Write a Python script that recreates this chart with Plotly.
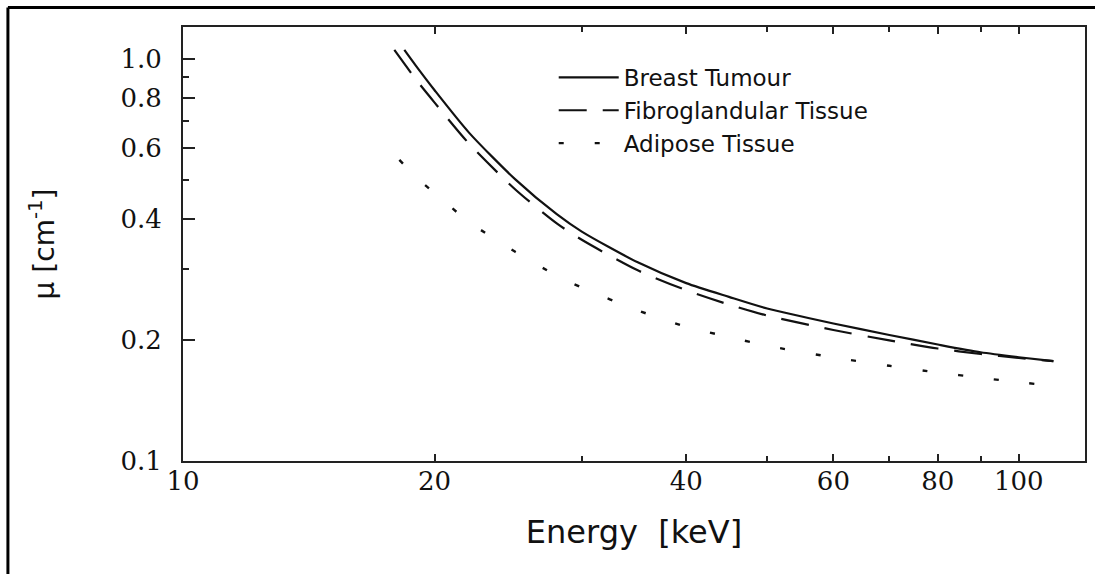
import plotly.graph_objects as go

# ---- data ----
energy_tumour = [18.4, 19, 20, 22, 25, 28, 30, 35, 40, 45, 50, 60, 70, 80, 90, 100, 110]
mu_tumour = [1.053, 0.961, 0.836, 0.655, 0.501, 0.411, 0.372, 0.312, 0.277, 0.256,
             0.2395, 0.2198, 0.2058, 0.1949, 0.1864, 0.1812, 0.1772]

energy_fibro = [17.9, 19, 20, 22, 25, 28, 30, 35, 40, 45, 50, 60, 70, 80, 90, 100, 110]
mu_fibro = [1.053, 0.889, 0.779, 0.615, 0.473, 0.390, 0.355, 0.298, 0.266, 0.245,
            0.230, 0.2118, 0.1995, 0.1905, 0.1846, 0.1804, 0.1771]

energy_adipose = [18.15, 19, 20, 22, 25, 28, 30, 35, 40, 45, 50, 60, 70, 80, 90, 100, 105]
mu_adipose = [0.561, 0.5085, 0.464, 0.393, 0.331, 0.289, 0.270, 0.237, 0.2157, 0.2035,
              0.1935, 0.181, 0.1725, 0.166, 0.1611, 0.157, 0.1554]

x_tick_vals = [10, 20, 40, 60, 80, 100]
x_tick_text = ["10", "20", "40", "60", "80", "100"]
x_minor_vals = [30, 50, 70, 90]
y_tick_vals = [0.1, 0.2, 0.4, 0.6, 0.8, 1.0]
y_tick_text = ["0.1", "0.2", "0.4", "0.6", "0.8", "1.0"]
y_minor_vals = [0.3, 0.5, 0.7, 0.9]

series_names = ["Breast Tumour", "Fibroglandular Tissue", "Adipose Tissue"]

# ---- figure ----
fig = go.Figure()
fig.add_trace(go.Scatter(x=energy_tumour, y=mu_tumour, mode="lines", name=series_names[0],
                         line=dict(color="#111111", width=2.2, shape="spline", smoothing=0.7)))
fig.add_trace(go.Scatter(x=energy_fibro, y=mu_fibro, mode="lines", name=series_names[1],
                         line=dict(color="#111111", width=2.2, dash="28px,16px",
                                   shape="spline", smoothing=0.7)))
fig.add_trace(go.Scatter(x=energy_adipose, y=mu_adipose, mode="lines", name=series_names[2],
                         line=dict(color="#111111", width=2.4, dash="5px,31px",
                                   shape="spline", smoothing=0.7)))

axis_line = dict(showline=True, linecolor="#222222", linewidth=2, showgrid=False, zeroline=False)
serif = dict(family="DejaVu Serif", size=26, color="#111111")
sans = "DejaVu Sans"

fig.update_xaxes(type="log", range=[1, 2.0792], mirror="ticks",
                 tickmode="array", tickvals=x_tick_vals, ticktext=x_tick_text,
                 ticks="inside", ticklen=7, tickwidth=2, tickcolor="#222222",
                 tickfont=serif, ticklabelstandoff=-4,
                 minor=dict(tickmode="array", tickvals=x_minor_vals, ticks="inside",
                            ticklen=5, tickwidth=2, tickcolor="#222222"),
                 title=dict(text="Energy\u00a0\u00a0[keV]",
                            font=dict(family=sans, size=32, color="#111111"), standoff=25),
                 **axis_line)
fig.update_yaxes(type="log", range=[-1, 0.0796], mirror=True,
                 tickmode="array", tickvals=y_tick_vals, ticktext=y_tick_text,
                 ticks="inside", ticklen=12, tickwidth=2, tickcolor="#222222",
                 tickfont=serif, ticklabelstandoff=14,
                 minor=dict(tickmode="array", tickvals=y_minor_vals, ticks="inside",
                            ticklen=6, tickwidth=2, tickcolor="#222222"),
                 title=dict(text="\u03bc [cm<sup>-1</sup>]",
                            font=dict(family=sans, size=28, color="#111111"), standoff=58),
                 **axis_line)

# outer frame lines (left and top) of the original figure
fig.add_shape(type="line", xref="paper", yref="paper", x0=-0.1941, x1=-0.1941, y0=1.0449, y1=-0.3,
              line=dict(color="black", width=3))
fig.add_shape(type="line", xref="paper", yref="paper", x0=-0.1941, x1=1.05, y0=1.0449, y1=1.0449,
              line=dict(color="black", width=3))

fig.update_layout(
    width=1095, height=574,
    margin=dict(l=183, r=8, t=27, b=113),
    paper_bgcolor="white", plot_bgcolor="white",
    showlegend=True,
    legend=dict(x=0.411, y=0.9334, xanchor="left", yanchor="top",
                bgcolor="rgba(0,0,0,0)", borderwidth=0,
                font=dict(family=sans, size=23, color="#111111"),
                itemwidth=60, tracegroupgap=0),
)

fig.write_html("out.html", config={"displayModeBar": False},
               post_script="document.body.style.margin='0';")
